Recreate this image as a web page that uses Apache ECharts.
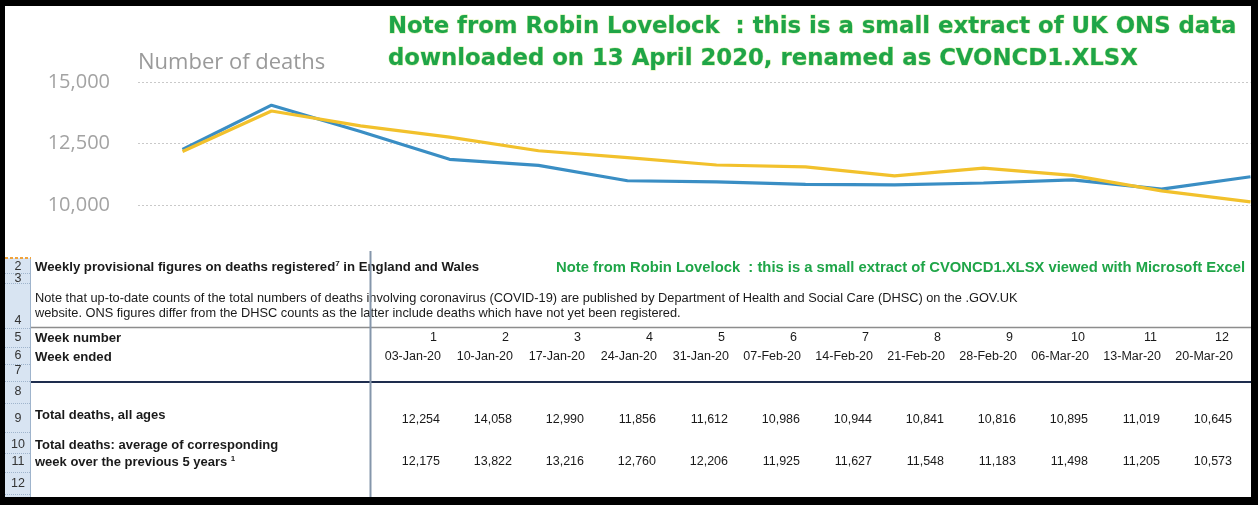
<!DOCTYPE html>
<html>
<head>
<meta charset="utf-8">
<title>Weekly deaths England and Wales</title>
<script src="https://cdn.jsdelivr.net/npm/echarts@6/dist/echarts.min.js"></script>
<style>
  html, body { margin: 0; padding: 0; background: #000; }
  #main { width: 1258px; height: 505px; }
</style>
</head>
<body>
<div id="main"></div>
<script>
// data read from the ONS extract (week 13)
var weekNumbers = [1, 2, 3, 4, 5, 6, 7, 8, 9, 10, 11, 12, 13];
var weekEnded = ['03-Jan-20', '10-Jan-20', '17-Jan-20', '24-Jan-20', '31-Jan-20', '07-Feb-20',
    '14-Feb-20', '21-Feb-20', '28-Feb-20', '06-Mar-20', '13-Mar-20', '20-Mar-20', '27-Mar-20'];
var totalDeaths = [12254, 14058, 12990, 11856, 11612, 10986, 10944, 10841, 10816, 10895, 11019, 10645, 11150];
var avgDeaths = [12175, 13822, 13216, 12760, 12206, 11925, 11627, 11548, 11183, 11498, 11205, 10573, 10130];
var yTicks = [10000, 12500, 15000];
var tableWeeks = 12; // columns visible in the spreadsheet extract

var GREEN = '#1fa548';
var TXT = '#1a1a1a';
var TFONT = 'Liberation Sans';

function fmt(n) {
    return String(n).replace(/\B(?=(\d{3})+(?!\d))/g, ',');
}

var myChart = echarts.init(document.getElementById('main'));

// spreadsheet rows: y centre of each text line
var rowY = { weekNo: 338, ended: 357, total: 420, avg: 462 };
var rowNums = [
    ['2', 267], ['3', 279], ['4', 321], ['5', 338], ['6', 356], ['7', 371],
    ['8', 392], ['9', 419], ['10', 445], ['11', 462], ['12', 484]
];
var rowLines = [273, 283, 328, 347, 364, 381, 403, 432, 453, 472, 494];

var tableGraphics = [];
// row header strip
tableGraphics.push({
    type: 'rect', z: 50, shape: { x: 5, y: 258, width: 25, height: 240 },
    style: { fill: '#d8e4f2' }
});
tableGraphics.push({
    type: 'line', z: 51, shape: { x1: 30.5, y1: 258, x2: 30.5, y2: 498 },
    style: { stroke: '#9fb4cc', lineWidth: 1 }
});
tableGraphics.push({
    type: 'line', z: 51, shape: { x1: 5, y1: 258, x2: 31, y2: 258 },
    style: { stroke: '#f0a33c', lineWidth: 2, lineDash: [3, 2] }
});
rowLines.forEach(function (y) {
    tableGraphics.push({
        type: 'line', z: 51, shape: { x1: 5, y1: y + 0.5, x2: 30, y2: y + 0.5 },
        style: { stroke: '#9fb4cc', lineWidth: 1, lineDash: [1, 1] }
    });
});
rowNums.forEach(function (r) {
    tableGraphics.push({
        type: 'text', z: 52, x: 18, y: r[1],
        style: { text: r[0], fill: '#333', font: '12.5px ' + TFONT, textAlign: 'center', textVerticalAlign: 'middle' }
    });
});
// rules
tableGraphics.push({
    type: 'line', z: 51, shape: { x1: 31, y1: 327.5, x2: 1252, y2: 327.5 },
    style: { stroke: '#8d8d8d', lineWidth: 1.5 }
});
tableGraphics.push({
    type: 'line', z: 51, shape: { x1: 31, y1: 382, x2: 1252, y2: 382 },
    style: { stroke: '#1e2d4e', lineWidth: 2 }
});
tableGraphics.push({
    type: 'line', z: 53, shape: { x1: 370.5, y1: 251, x2: 370.5, y2: 498 },
    style: { stroke: '#8596ab', lineWidth: 2 }
});
// left column texts: [text, y, bold, size]
var leftTexts = [
    ['Weekly provisional figures on deaths registered{s|7} in England and Wales', 267, true, 13.2],
    ['Note that up-to-date counts of the total numbers of deaths involving coronavirus (COVID-19) are published by Department of Health and Social Care (DHSC) on the .GOV.UK', 298, false, 12.8],
    ['website. ONS figures differ from the DHSC counts as the latter include deaths which have not yet been registered.', 313, false, 12.8],
    ['Week number', rowY.weekNo, true, 13.2],
    ['Week ended', rowY.ended, true, 13.2],
    ['Total deaths, all ages', 415, true, 13],
    ['Total deaths: average of corresponding', 445, true, 13],
    ['week over the previous 5 years {s|1}', rowY.avg, true, 13]
];
leftTexts.forEach(function (t) {
    tableGraphics.push({
        type: 'text', z: 52, x: 35, y: t[1],
        style: {
            text: t[0], fill: TXT, font: (t[2] ? 'bold ' : '') + t[3] + 'px ' + TFONT,
            textVerticalAlign: 'middle',
            rich: { s: { fontSize: 8, fontWeight: 'bold', verticalAlign: 'top', padding: [0, 0, 7, 0] } }
        }
    });
});
tableGraphics.push({
    type: 'text', z: 52, x: 556, y: 268,
    style: {
        text: 'Note from Robin Lovelock  : this is a small extract of CVONCD1.XLSX viewed with Microsoft Excel',
        fill: GREEN, font: 'bold 14.8px ' + TFONT, textVerticalAlign: 'middle'
    }
});
// black picture frame
[[0, 0, 1258, 6], [0, 0, 5, 505], [1251, 0, 7, 505], [0, 497, 1258, 8]].forEach(function (b) {
    tableGraphics.push({
        type: 'rect', z: 100, shape: { x: b[0], y: b[1], width: b[2], height: b[3] },
        style: { fill: '#000' }
    });
});

var tableData = [];
for (var i = 0; i < tableWeeks; i++) {
    tableData.push([i, weekNumbers[i], totalDeaths[i], avgDeaths[i]]);
}

function pairs(values) {
    return weekNumbers.map(function (w, i) { return [w, values[i]]; });
}

var option = {
    backgroundColor: '#fff',
    animation: false,
    title: {
        text: 'Note from Robin Lovelock  : this is a small extract of UK ONS data\ndownloaded on 13 April 2020, renamed as CVONCD1.XLSX',
        left: 383,
        top: 6,
        textStyle: {
            color: GREEN,
            fontFamily: 'DejaVu Sans',
            fontWeight: 'bold',
            fontSize: 22.8,
            lineHeight: 32,
            textBorderColor: '#d9f0a8',
            textBorderWidth: 1
        }
    },
    grid: [
        { left: 138, top: 82, width: 1112.5, height: 123 },
        { left: 369, top: 330, width: 72 * tableWeeks, height: 160 }
    ],
    xAxis: [
        {
            type: 'value', gridIndex: 0, min: 0.5, max: 13,
            axisLine: { show: false }, axisTick: { show: false }, axisLabel: { show: false },
            splitLine: { show: false }
        },
        {
            type: 'category', gridIndex: 1, data: weekNumbers.slice(0, tableWeeks), boundaryGap: true,
            show: false
        }
    ],
    yAxis: [
        {
            type: 'value', gridIndex: 0, min: yTicks[0], max: yTicks[2], interval: 2500,
            name: 'Number of deaths',
            nameLocation: 'end',
            nameGap: 8,
            nameTextStyle: { color: '#9a9a9a', fontFamily: 'Open Sans', fontSize: 22, align: 'left' },
            axisLine: { show: false }, axisTick: { show: false },
            axisLabel: {
                color: '#a3a3a3', fontFamily: 'Open Sans', fontSize: 20, margin: 28,
                formatter: function (v) { return fmt(v); }
            },
            splitLine: { lineStyle: { color: '#c9c9c9', type: [2, 2], width: 1 } }
        },
        { type: 'value', gridIndex: 1, min: 0, max: 1, show: false }
    ],
    series: [
        {
            name: 'Total deaths, all ages',
            type: 'line', xAxisIndex: 0, yAxisIndex: 0,
            data: pairs(totalDeaths), symbol: 'none',
            lineStyle: { color: '#3a8ec4', width: 3.2 }
        },
        {
            name: 'Average of corresponding week over the previous 5 years',
            type: 'line', xAxisIndex: 0, yAxisIndex: 0,
            data: pairs(avgDeaths), symbol: 'none',
            lineStyle: { color: '#f2c12c', width: 3.2 }
        },
        {
            type: 'custom', xAxisIndex: 1, yAxisIndex: 1,
            data: tableData,
            renderItem: function (params, api) {
                var idx = api.value(0);
                var xr = api.coord([idx, 0])[0] + api.size([1, 0])[0] / 2;
                var cells = [
                    [String(api.value(1)), rowY.weekNo, xr - 4],
                    [weekEnded[idx], rowY.ended, xr],
                    [fmt(api.value(2)), rowY.total, xr - 1],
                    [fmt(api.value(3)), rowY.avg, xr - 1]
                ];
                return {
                    type: 'group',
                    children: cells.map(function (c) {
                        return {
                            type: 'text', x: c[2], y: c[1],
                            style: {
                                text: c[0], fill: TXT, font: '12.5px ' + TFONT,
                                textAlign: 'right', textVerticalAlign: 'middle'
                            }
                        };
                    })
                };
            }
        }
    ],
    graphic: { elements: tableGraphics }
};

myChart.setOption(option);
</script>
</body>
</html>
